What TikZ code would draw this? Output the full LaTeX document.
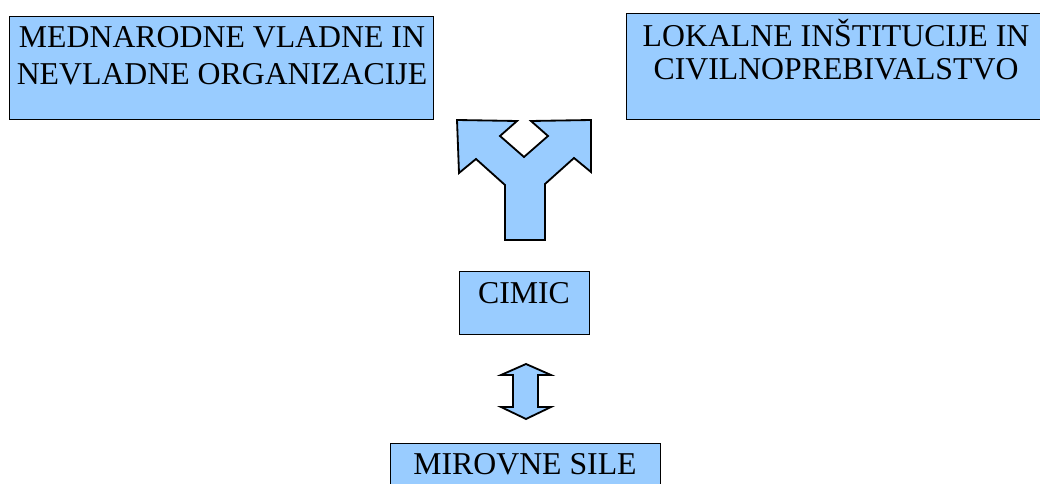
\documentclass[tikz,border=0pt]{standalone}
\usepackage{fontspec}
\setmainfont{Liberation Serif}
\usepackage{xcolor}
\usetikzlibrary{positioning}

\definecolor{boxblue}{HTML}{99CCFF}

\tikzset{
    box/.style={draw=black, fill=boxblue, line width=.5pt, inner sep=0pt, outer sep=0pt, anchor=north west},
    caption/.style={font=\fontsize{22.6}{27}\selectfont, align=center, inner sep=0pt},
    blockarrow/.style={draw=black, fill=boxblue, line width=1.3pt, line join=miter}
}

\begin{document}
\begin{tikzpicture}[x=.025cm, y=-.025cm]
        \clip (0,0) rectangle (1040,484);
        % boxes
        \node[box, minimum width=10.6cm, minimum height=2.575cm] (intl) at (9,16) {};
        \node[box, minimum width=10.5cm, minimum height=2.65cm] (local) at (626,13) {};
        \node[box, minimum width=3.25cm, minimum height=1.575cm] (cimic) at (459,271) {};
        \node[box, minimum width=6.75cm, minimum height=1.6cm] (peace) at (390,443) {};
        % texts (base = last line)
        \node[caption, anchor=base] (intltxt) at (222,85) {MEDNARODNE VLADNE IN\\NEVLADNE ORGANIZACIJE};
        \node[caption, anchor=base, font=\fontsize{22.6}{24}\selectfont] (localtxt) at (836,80) {LOKALNE INŠTITUCIJE IN\\CIVILNOPREBIVALSTVO};
        \node[caption, anchor=base] (cimictxt) at (524,304) {CIMIC};
        \node[caption, anchor=base] (peacetxt) at (525,475) {MIROVNE SILE};
        % fork
        \draw[blockarrow] (457,120) -- ++(60,1) -- ++(-17,15) -- ++(24,21) -- ++(24,-21) -- ++(-17,-15) -- ++(60,-1)
            -- ++(0,52) -- ++(-17,-14) -- ++(-29,26) -- ++(0,56) -- ++(-40,0) -- ++(0,-55) -- ++(-29,-26) -- ++(-17,14) -- cycle;
        % up and down
        \draw[blockarrow] (526,364) -- ++(25,11) -- ++(-13,0) -- ++(0,32) -- ++(13,0) -- ++(-25,12)
            -- ++(-25,-12) -- ++(12,0) -- ++(0,-32) -- ++(-12,0) -- cycle;
    \end{tikzpicture}
\end{document}
